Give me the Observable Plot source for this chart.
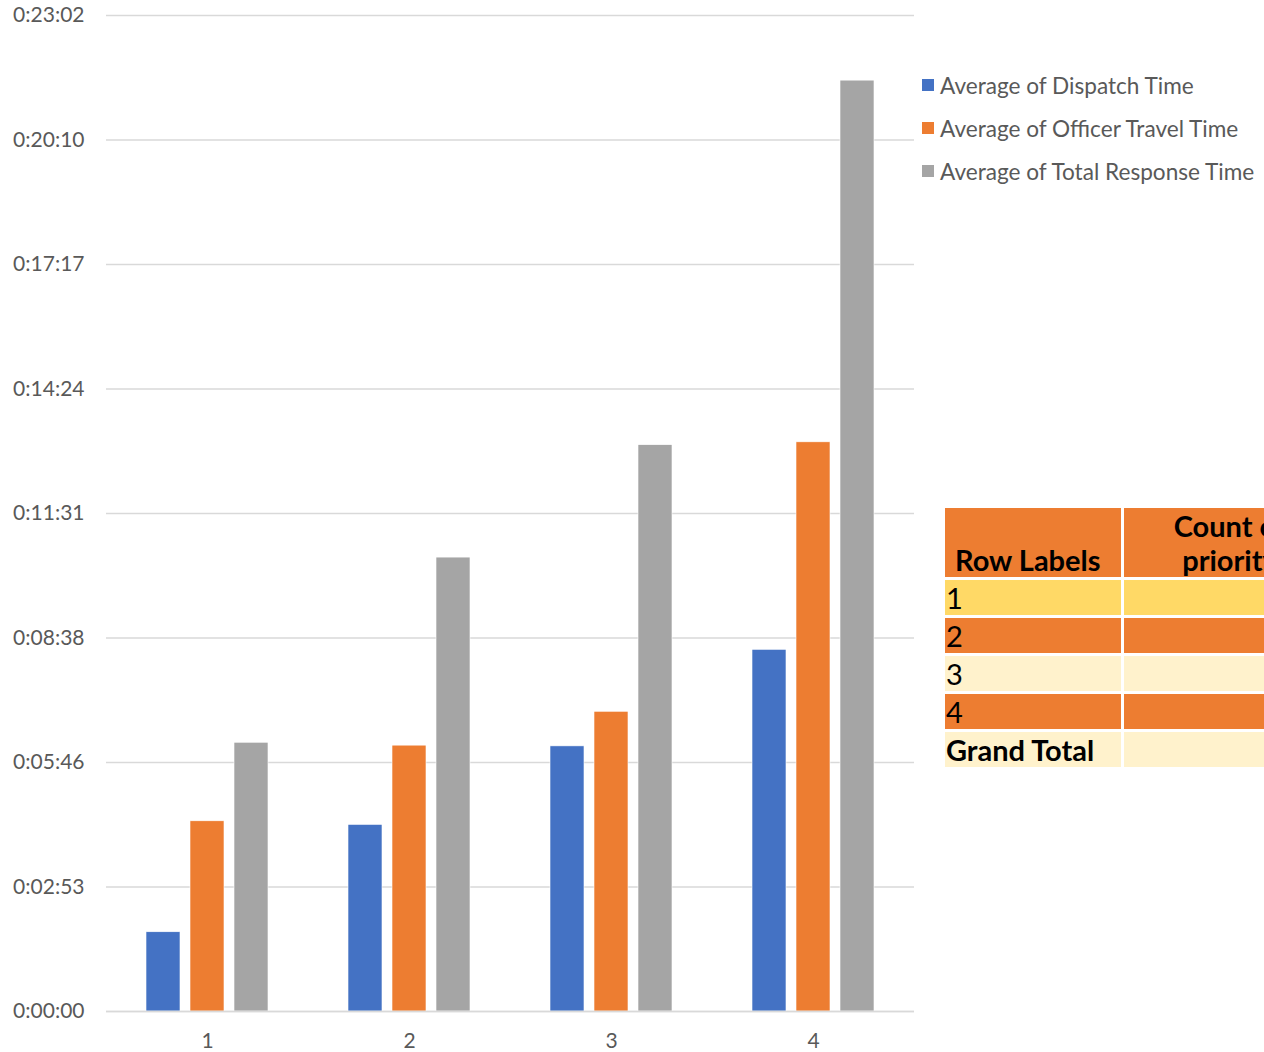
<!DOCTYPE html>
<html>
<head>
<meta charset="utf-8">
<script src="https://cdn.jsdelivr.net/npm/d3@7"></script>
<script src="https://cdn.jsdelivr.net/npm/@observablehq/plot@0.6"></script>
<style>
  html, body { margin: 0; padding: 0; background: #fff; overflow: hidden; width: 1264px; height: 1052px; }
  #wrap { position: relative; width: 1264px; height: 1052px; font-family: Lato, sans-serif; overflow: hidden; }
  #chart { position: absolute; left: 0; top: 0; }
  .legend { position: absolute; left: 922px; font-size: 22.6px; color: #595959; white-space: nowrap; display: flex; align-items: center; }
  .legend span.sw { display: inline-block; width: 12px; height: 12px; margin-right: 6px; }
  .pivot { position: absolute; left: 945px; top: 508px; display: grid; grid-template-columns: 176px 212px; grid-template-rows: 69px repeat(5, 35px); gap: 3px; font-family: Lato, sans-serif; color: #000; font-size: 29px; white-space: nowrap; }
  .pivot div { overflow: hidden; line-height: 35px; }
  .pivot .hdr { background: #ED7D31; font-weight: bold; display: flex; flex-direction: column; justify-content: flex-end; line-height: 34px; }
  .pivot .rl { padding-left: 10px; }
  .pivot .cnt { text-align: center; }
  .pivot .lbl { padding-left: 1px; }
</style>
</head>
<body>
<div id="wrap">
  <div id="chart"></div>
</div>
<script>
// Data (seconds)
const priorities = ["1", "2", "3", "4"];
const seriesNames = ["Average of Dispatch Time", "Average of Officer Travel Time", "Average of Total Response Time"];
const dispatchTime = [110, 259, 368, 502];
const travelTime = [264, 369, 416, 790];
const totalTime = [373, 630, 786, 1292];
const seriesColors = ["#4472C4", "#ED7D31", "#A5A5A5"];
const yTicks = [0, 172.8, 345.6, 518.4, 691.2, 864, 1036.8, 1209.6, 1382.4];
const tableRows = ["1", "2", "3", "4", "Grand Total"];
const tableRowColors = ["#FFD966", "#ED7D31", "#FFF2CC", "#ED7D31", "#FFF2CC"];

const allSeries = [dispatchTime, travelTime, totalTime];
const data = [];
priorities.forEach((p, i) => {
  seriesNames.forEach((s, j) => data.push({priority: p, series: s, value: allSeries[j][i]}));
});

function fmt(sec) {
  const t = Math.round(sec);
  const h = Math.floor(t / 3600), m = Math.floor((t % 3600) / 60), s = t % 60;
  return `${h}:${String(m).padStart(2, "0")}:${String(s).padStart(2, "0")}`;
}

const chart = Plot.plot({
  width: 1264,
  height: 1052,
  marginLeft: 105,
  marginRight: 349,
  marginTop: 15,
  marginBottom: 41,
  style: { fontFamily: "Lato, sans-serif", fontSize: "21px", color: "#595959", background: "transparent" },
  fx: { domain: priorities, padding: 0, label: null, tickSize: 0, tickPadding: 22 },
  x: { domain: seriesNames, paddingInner: 0.222, paddingOuter: 0.861, axis: null },
  y: { domain: [0, 1382.4], ticks: yTicks, tickFormat: fmt, tickSize: 0, tickPadding: 22, label: null },
  color: { domain: seriesNames, range: seriesColors },
  marks: [
    Plot.ruleY(yTicks, { stroke: "#D9D9D9", strokeWidth: 1.5 }),
    Plot.barY(data, { fx: "priority", x: "series", y: "value", fill: "series", stroke: "#ffffff", strokeWidth: 0.6 }),
    Plot.ruleY([0], { stroke: "#D9D9D9", strokeWidth: 1.5 })
  ]
});
document.getElementById("chart").appendChild(chart);

// Legend
const wrap = document.getElementById("wrap");
seriesNames.forEach((s, j) => {
  const d = document.createElement("div");
  d.className = "legend";
  d.style.top = (71 + j * 43) + "px";
  d.style.height = "28px";
  d.innerHTML = `<span class="sw" style="background:${seriesColors[j]}"></span>${s}`;
  wrap.appendChild(d);
});

// Pivot table
const pv = document.createElement("div");
pv.className = "pivot";
let html = `<div class="hdr rl"><span>Row Labels</span></div><div class="hdr cnt"><span>Count of</span><span>priority</span></div>`;
tableRows.forEach((r, i) => {
  const bold = r === "Grand Total" ? "font-weight:bold;" : "";
  html += `<div class="lbl" style="background:${tableRowColors[i]};${bold}">${r}</div><div style="background:${tableRowColors[i]}"></div>`;
});
pv.innerHTML = html;
wrap.appendChild(pv);
</script>
</body>
</html>
